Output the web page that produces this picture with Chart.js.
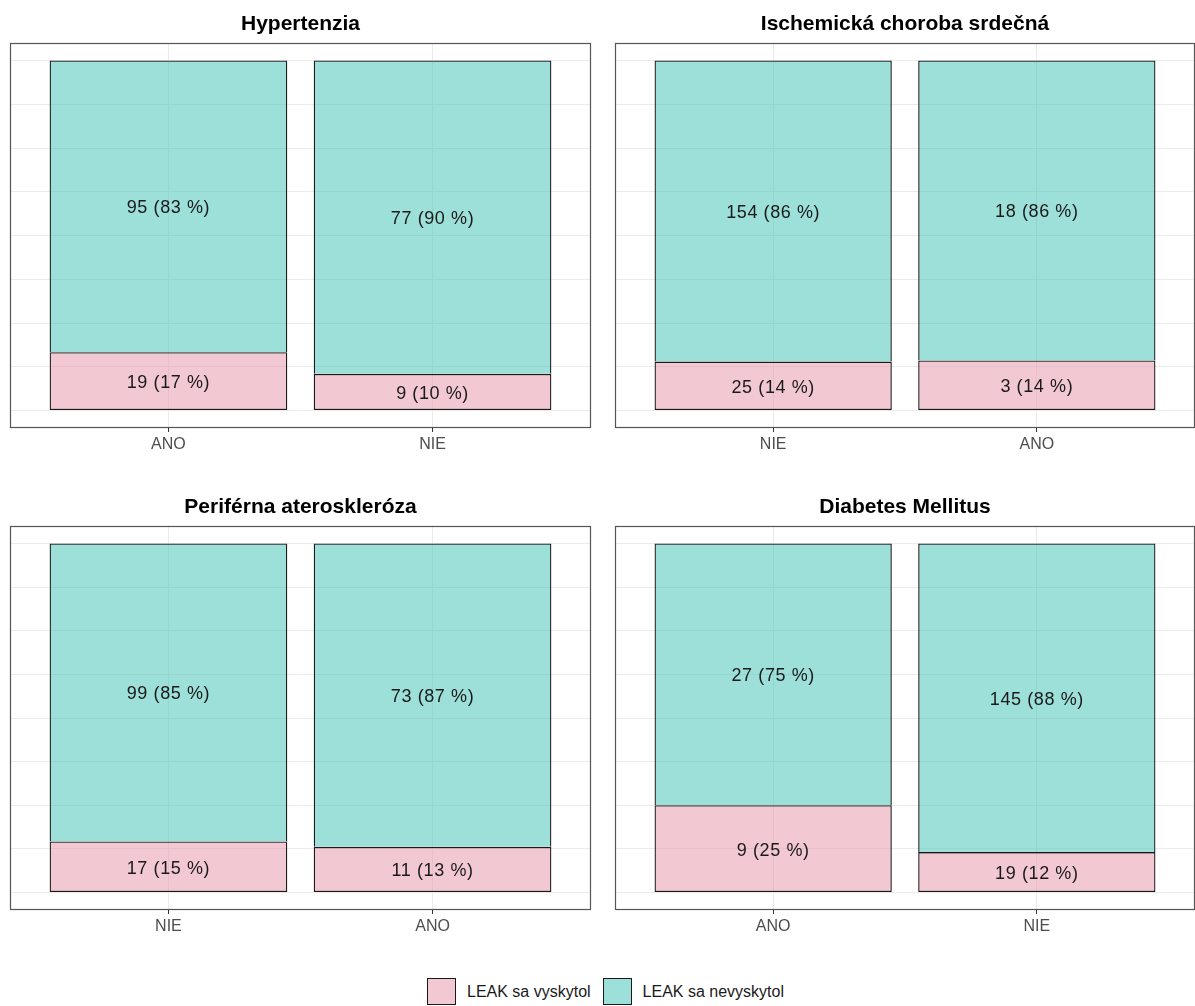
<!DOCTYPE html>
<html lang="sk">
<head>
  <meta charset="UTF-8" />
  <title>LEAK podľa komorbidít</title>
  <script src="https://cdn.jsdelivr.net/npm/chart.js"></script>
  <style>
    body {
      margin: 0;
      background: #ffffff;
      font-family: 'Liberation Sans', Arial, sans-serif;
    }
    .wrap {
      position: relative;
      width: 1195px;
      height: 1006px;
      overflow: hidden;
    }
    .panel {
      position: absolute;
    }
    .legend {
      position: absolute;
      top: 978px;
      left: 427px;
      display: flex;
      align-items: center;
      font-size: 16px;
      color: #1a1a1a;
    }
    .legend .key {
      width: 27px;
      height: 25px;
      border: 1px solid #1a1a1a;
      margin-right: 11px;
    }
    .legend .item {
      display: flex;
      align-items: center;
      margin-right: 12px;
    }
  </style>
</head>
<body>
  <div class="wrap">
    <div class="panel" style="left:0;top:0;width:600px;height:470px"><canvas id="hyp"></canvas></div>
    <div class="panel" style="left:605px;top:0;width:590px;height:470px"><canvas id="isch"></canvas></div>
    <div class="panel" style="left:0;top:483px;width:600px;height:469px"><canvas id="per"></canvas></div>
    <div class="panel" style="left:605px;top:483px;width:590px;height:469px"><canvas id="dm"></canvas></div>

    <div class="legend">
      <div class="item"><span class="key" style="background:rgba(229,147,165,0.5)"></span>LEAK sa vyskytol</div>
      <div class="item"><span class="key" style="background:rgba(59,191,179,0.5)"></span>LEAK sa nevyskytol</div>
    </div>
  </div>

  <script>
    // data (counts per group)
    const seriesNames = ['LEAK sa vyskytol', 'LEAK sa nevyskytol'];

    const hypTitle = 'Hypertenzia';
    const hypCats = ['ANO', 'NIE'];
    const hypLeak = [19, 9];
    const hypNoLeak = [95, 77];

    const ischTitle = 'Ischemická choroba srdečná';
    const ischCats = ['NIE', 'ANO'];
    const ischLeak = [25, 3];
    const ischNoLeak = [154, 18];

    const perTitle = 'Periférna ateroskleróza';
    const perCats = ['NIE', 'ANO'];
    const perLeak = [17, 11];
    const perNoLeak = [99, 73];

    const dmTitle = 'Diabetes Mellitus';
    const dmCats = ['ANO', 'NIE'];
    const dmLeak = [9, 19];
    const dmNoLeak = [27, 145];

    const yGridTicks = [0, 0.125, 0.25, 0.375, 0.5, 0.625, 0.75, 0.875, 1];

    const FONT = "'Liberation Sans', Arial, sans-serif";
    const pink = 'rgba(229,147,165,0.5)';
    const teal = 'rgba(59,191,179,0.5)';

    const panelPlugin = {
      id: 'panelPlugin',
      afterDraw(chart) {
        const a = chart.chartArea;
        const ctx = chart.ctx;
        ctx.save();
        ctx.strokeStyle = '#555555';
        ctx.lineWidth = 1.2;
        ctx.strokeRect(a.left + 0.5, a.top + 0.5, a.right - a.left - 1, a.bottom - a.top - 1);
        ctx.fillStyle = '#000000';
        ctx.font = 'bold 21px ' + FONT;
        ctx.textAlign = 'center';
        ctx.textBaseline = 'alphabetic';
        ctx.fillText(chart.options.plugins.panelPlugin.title, (a.left + a.right) / 2, a.top - 13);
        ctx.restore();
      }
    };

    const valueLabels = {
      id: 'valueLabels',
      afterDatasetsDraw(chart) {
        const ctx = chart.ctx;
        const counts = chart.options.plugins.valueLabels.counts;
        ctx.save();
        ctx.fillStyle = '#1a1a1a';
        ctx.font = '18px ' + FONT;
        ctx.letterSpacing = '0.6px';
        ctx.textAlign = 'center';
        ctx.textBaseline = 'middle';
        chart.data.datasets.forEach((ds, di) => {
          chart.getDatasetMeta(di).data.forEach((el, i) => {
            const n = counts[di][i];
            const total = counts[0][i] + counts[1][i];
            const pct = Math.round(100 * n / total);
            ctx.fillText(n + ' (' + pct + ' %)', el.x, (el.y + el.base) / 2 + 2);
          });
        });
        ctx.restore();
      }
    };

    function makePanel(id, title, cats, leak, noLeak) {
      const share = (arr) => arr.map((v, i) => ({ x: i + 1, y: v / (leak[i] + noLeak[i]) }));
      return new Chart(document.getElementById(id), {
        type: 'bar',
        data: {
          datasets: [
            { label: seriesNames[0], data: share(leak), backgroundColor: pink, borderSkipped: false },
            { label: seriesNames[1], data: share(noLeak), backgroundColor: teal, borderSkipped: 'start' }
          ]
        },
        options: {
          responsive: true,
          maintainAspectRatio: false,
          animation: false,
          layout: { padding: { left: 10, right: id === 'hyp' || id === 'per' ? 9 : 0, top: 43, bottom: 0 } },
          datasets: {
            bar: {
              borderColor: '#1a1a1a',
              borderWidth: 1.3,
              categoryPercentage: 1,
              barPercentage: 0.9
            }
          },
          plugins: {
            legend: { display: false },
            tooltip: { enabled: false },
            panelPlugin: { title: title },
            valueLabels: { counts: [leak, noLeak] }
          },
          scales: {
            x: {
              type: 'linear',
              stacked: true,
              offset: false,
              min: 0.4,
              max: 2.6,
              afterBuildTicks: (s) => { s.ticks = cats.map((c, i) => ({ value: i + 1 })); },
              afterFit: (s) => { s.height = 42; },
              ticks: {
                callback: (v) => cats[v - 1],
                color: '#4d4d4d',
                font: { family: FONT, size: 16 },
                padding: 3,
                maxRotation: 0
              },
              grid: { offset: false, color: '#ebebeb', tickColor: '#333333', tickLength: 4, lineWidth: 1 },
              border: { display: false }
            },
            y: {
              stacked: true,
              min: -0.05,
              max: 1.05,
              afterBuildTicks: (s) => { s.ticks = yGridTicks.map(v => ({ value: v })); },
              afterFit: (s) => { s.width = 0; },
              ticks: { display: false },
              grid: { color: '#ebebeb', lineWidth: 1, drawTicks: false },
              border: { display: false }
            }
          }
        },
        plugins: [panelPlugin, valueLabels]
      });
    }

    makePanel('hyp', hypTitle, hypCats, hypLeak, hypNoLeak);
    makePanel('isch', ischTitle, ischCats, ischLeak, ischNoLeak);
    makePanel('per', perTitle, perCats, perLeak, perNoLeak);
    makePanel('dm', dmTitle, dmCats, dmLeak, dmNoLeak);
  </script>
</body>
</html>
